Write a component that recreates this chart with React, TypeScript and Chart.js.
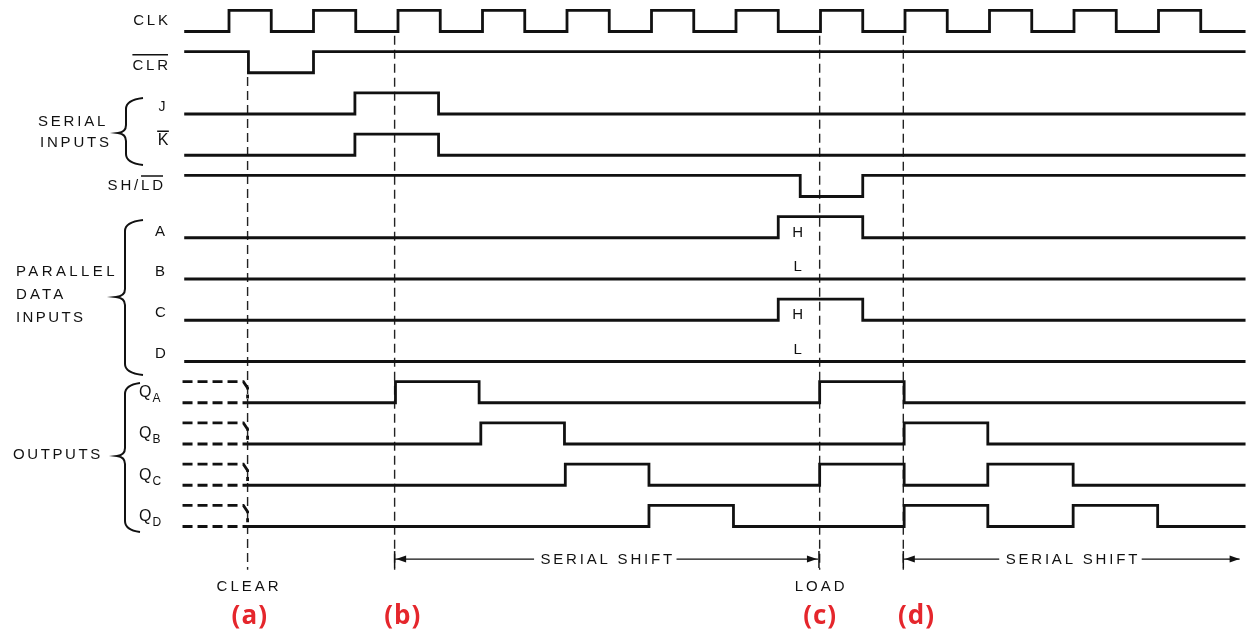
import { useEffect, useRef } from "react";
import { Chart, registerables } from "chart.js";

Chart.register(...registerables);

// ---------------- data ----------------
// time unit = one clock period, t = 0 at the first CLK rising edge
const T_START = -0.53;
const T_END = 12.03;

const rowNames = ["CLK", "CLR", "J", "K", "SH/LD", "A", "B", "C", "D", "QA", "QB", "QC", "QD"];
const startLevels = [0, 1, 0, 0, 1, 0, 0, 0, 0, 0, 0, 0, 0];

const clkEdges = [0, 0.5, 1, 1.5, 2, 2.5, 3, 3.5, 4, 4.5, 5, 5.5, 6, 6.5, 7, 7.5, 8, 8.5, 9, 9.5, 10, 10.5, 11, 11.5];
const clrEdges = [0.23, 1.0];
const jEdges = [1.49, 2.48];
const kEdges = [1.49, 2.48];
const shldEdges = [6.76, 7.5];
const aEdges = [6.5, 7.5];
const bEdges: number[] = [];
const cEdges = [6.5, 7.5];
const dEdges: number[] = [];
const qaEdges = [1.97, 2.96, 6.99, 7.99];
const qbEdges = [2.98, 3.97, 7.99, 8.98];
const qcEdges = [3.98, 4.97, 6.99, 7.99, 8.98, 9.99];
const qdEdges = [4.97, 5.97, 7.99, 8.98, 9.99, 10.99];
const edgeLists = [clkEdges, clrEdges, jEdges, kEdges, shldEdges, aEdges, bEdges, cEdges, dEdges, qaEdges, qbEdges, qcEdges, qdEdges];

const outputRows = [9, 10, 11, 12];
const clearTime = 0.22;

const markerTimes = [0.22, 1.96, 6.99, 7.98];
const markerStartRows = [1, 0, 0, 0];
const markerCaptions = ["CLEAR", "", "LOAD", ""];
const stepTags = ["(a)", "(b)", "(c)", "(d)"];
const stepTagTimes = [0.24, 2.05, 6.99, 8.13];

const shiftStarts = [1.96, 7.98];
const shiftEnds = [6.97, 11.96];
const shiftEndTicks = [true, false];
const shiftCaption = "SERIAL SHIFT";

const loadedTime = 6.73;
const loadedRows = [5, 6, 7, 8];
const loadedValues = ["H", "L", "H", "L"];

// ---------------- layout ----------------
const W = 1246;
const H = 634;
const X_ORIGIN_PX = 229;
const PERIOD_PX = 84.5;
const ROW0_PX = 31.5;
const ROW_PX = 41.25;
const AMP = 0.51;
const MARKER_END_ROW = 13.05;
const SHIFT_ROW = 12.79;

const X_MIN = -X_ORIGIN_PX / PERIOD_PX;
const X_MAX = X_MIN + W / PERIOD_PX;
const Y_MIN = -ROW0_PX / ROW_PX;
const Y_MAX = Y_MIN + H / ROW_PX;

const INK = "#111";
const RED = "#e5262c";
const FONT = '"Liberation Sans", Arial, sans-serif';
const LINE_W = 2.8;

function wave(row: number, start: number, startLevel: number, edges: number[]) {
  const pts: { x: number; y: number }[] = [];
  let lvl = startLevel;
  pts.push({ x: start, y: row - AMP * lvl });
  for (const e of edges) {
    pts.push({ x: e, y: row - AMP * lvl });
    lvl = 1 - lvl;
    pts.push({ x: e, y: row - AMP * lvl });
  }
  pts.push({ x: T_END, y: row - AMP * lvl });
  return pts;
}

function buildDatasets() {
  const ds: any[] = [];
  rowNames.forEach((_, r) => {
    const isOut = outputRows.includes(r);
    ds.push({
      data: wave(r, isOut ? clearTime : T_START, startLevels[r], edgeLists[r]),
      borderColor: INK,
      borderWidth: LINE_W,
      borderJoinStyle: "miter",
      pointRadius: 0,
      fill: false,
    });
    if (isOut) {
      ds.push({
        data: [
          { x: T_START - 0.02, y: r - AMP },
          { x: clearTime - 0.05, y: r - AMP },
          { x: clearTime, y: r - AMP * 0.7 },
          { x: clearTime, y: r - AMP * 0.2 },
        ],
        borderColor: INK,
        borderWidth: LINE_W,
        borderDash: [10, 5],
        pointRadius: 0,
        fill: false,
      });
      ds.push({
        data: [
          { x: T_START - 0.02, y: r },
          { x: clearTime, y: r },
        ],
        borderColor: INK,
        borderWidth: LINE_W,
        borderDash: [10, 5],
        pointRadius: 0,
        fill: false,
      });
    }
  });
  markerTimes.forEach((t, i) => {
    ds.push({
      data: [
        { x: t, y: markerStartRows[i] + 0.1 },
        { x: t, y: MARKER_END_ROW },
      ],
      borderColor: "#222",
      borderWidth: 1.4,
      borderDash: [9, 5],
      pointRadius: 0,
      fill: false,
    });
  });
  shiftStarts.forEach((t, i) => {
    ds.push({
      data: [
        { x: t, y: SHIFT_ROW },
        { x: shiftEnds[i], y: SHIFT_ROW },
      ],
      borderColor: INK,
      borderWidth: 1.3,
      pointRadius: 0,
      fill: false,
    });
  });
  return ds;
}

function drawText(
  ctx: CanvasRenderingContext2D,
  s: string,
  x: number,
  y: number,
  align: "left" | "right" | "center",
  size = 15,
  spacing = 2.8,
  weight = "normal",
  family = FONT,
  color = INK
) {
  ctx.font = `${weight} ${size}px ${family}`;
  (ctx as any).letterSpacing = spacing + "px";
  ctx.fillStyle = color;
  ctx.textBaseline = "middle";
  ctx.textAlign = "left";
  const w = ctx.measureText(s).width - spacing;
  const x0 = align === "left" ? x : align === "right" ? x - w : x - w / 2;
  ctx.fillText(s, x0, y);
  return { x0, w };
}

function overline(ctx: CanvasRenderingContext2D, s: string, from: number, x0: number, cy: number, size = 15, spacing = 2.8) {
  ctx.font = `normal ${size}px ${FONT}`;
  (ctx as any).letterSpacing = spacing + "px";
  const a = from === 0 ? 0 : ctx.measureText(s.slice(0, from)).width;
  const b = ctx.measureText(s).width - spacing;
  ctx.strokeStyle = INK;
  ctx.lineWidth = 1.5;
  ctx.beginPath();
  ctx.moveTo(x0 + a, cy - 10);
  ctx.lineTo(x0 + b, cy - 10);
  ctx.stroke();
}

function brace(ctx: CanvasRenderingContext2D, xEnd: number, xBar: number, xTip: number, yTop: number, yMid: number, yBot: number) {
  ctx.strokeStyle = INK;
  ctx.lineWidth = 2;
  ctx.beginPath();
  ctx.moveTo(xEnd, yTop);
  ctx.quadraticCurveTo(xBar, yTop + 2, xBar, yTop + 11);
  ctx.lineTo(xBar, yMid - 8);
  ctx.quadraticCurveTo(xBar, yMid - 1, xTip, yMid);
  ctx.quadraticCurveTo(xBar, yMid + 1, xBar, yMid + 8);
  ctx.lineTo(xBar, yBot - 11);
  ctx.quadraticCurveTo(xBar, yBot - 2, xEnd, yBot);
  ctx.stroke();
}

function arrowHead(ctx: CanvasRenderingContext2D, tipX: number, y: number, dir: number) {
  ctx.fillStyle = INK;
  ctx.beginPath();
  ctx.moveTo(tipX, y);
  ctx.lineTo(tipX - dir * 10, y - 3.5);
  ctx.lineTo(tipX - dir * 10, y + 3.5);
  ctx.closePath();
  ctx.fill();
}

const diagramPlugin = {
  id: "diagramText",
  beforeDraw(chart: any) {
    const ctx = chart.ctx as CanvasRenderingContext2D;
    ctx.save();
    ctx.fillStyle = "#fff";
    ctx.fillRect(0, 0, chart.width, chart.height);
    ctx.restore();
  },
  afterDatasetsDraw(chart: any) {
    const ctx = chart.ctx as CanvasRenderingContext2D;
    const px = (t: number) => chart.scales.x.getPixelForValue(t);
    const py = (r: number) => chart.scales.y.getPixelForValue(r);
    ctx.save();

    // signal names
    let m = drawText(ctx, "CLK", 168, py(0) - 11, "right");
    m = drawText(ctx, "CLR", 168, py(1) - 7, "right");
    overline(ctx, "CLR", 0, m.x0, py(1) - 7 - 1);
    drawText(ctx, "J", 162, py(2) - 7, "center", 14, 0);
    m = drawText(ctx, "K", 163, py(3) - 15, "center", 16, 0);
    ctx.strokeStyle = INK;
    ctx.lineWidth = 1.5;
    ctx.beginPath();
    ctx.moveTo(m.x0 - 0.5, py(3) - 24);
    ctx.lineTo(m.x0 + m.w + 0.5, py(3) - 24);
    ctx.stroke();
    m = drawText(ctx, "SH/LD", 163, py(4) - 10.5, "right");
    overline(ctx, "SH/LD", 3, m.x0, py(4) - 10.5);
    const dataOffsets = [-6, -7, -7, -8];
    ["A", "B", "C", "D"].forEach((n, i) => {
      drawText(ctx, n, 155, py(5 + i) + dataOffsets[i], "left", 15, 0);
    });
    ["A", "B", "C", "D"].forEach((n, i) => {
      const cy = py(9 + i) - 10;
      const q = drawText(ctx, "Q", 139, cy, "left", 16, 0);
      drawText(ctx, n, q.x0 + q.w + 1, cy + 6, "left", 12, 0);
    });

    // group labels
    drawText(ctx, "SERIAL", 38, 122, "left");
    drawText(ctx, "INPUTS", 40, 143, "left");
    drawText(ctx, "PARALLEL", 16, 272, "left", 15, 3.4);
    drawText(ctx, "DATA", 16, 295, "left", 15, 3.2);
    drawText(ctx, "INPUTS", 16, 318, "left", 15, 2.4);
    drawText(ctx, "OUTPUTS", 13, 455, "left", 15, 2.6);
    brace(ctx, 143, 126, 118, 98, 133, 165);
    brace(ctx, 143, 125, 116, 220, 297, 375);
    brace(ctx, 140, 125, 117, 383, 456, 532);

    // loaded H / L values
    loadedRows.forEach((r, i) => {
      const v = loadedValues[i];
      const cy = v === "H" ? py(r - AMP) + 16 : py(r) - 12;
      drawText(ctx, v, px(loadedTime), cy, "center", 15, 0);
    });

    // serial shift spans
    const ys = py(SHIFT_ROW);
    shiftStarts.forEach((t0, i) => {
      const x0 = px(t0);
      const x1 = px(shiftEnds[i]);
      ctx.strokeStyle = INK;
      ctx.lineWidth = 1.5;
      ctx.beginPath();
      ctx.moveTo(x0, ys - 8);
      ctx.lineTo(x0, ys + 9);
      ctx.stroke();
      arrowHead(ctx, x0 + 1.5, ys, -1);
      if (shiftEndTicks[i]) {
        ctx.beginPath();
        ctx.moveTo(x1 + 1, ys - 8);
        ctx.lineTo(x1 + 1, ys + 9);
        ctx.stroke();
        arrowHead(ctx, x1 - 1, ys, 1);
      } else {
        arrowHead(ctx, x1, ys, 1);
      }
      const cx = (x0 + x1) / 2;
      ctx.font = `normal 15px ${FONT}`;
      (ctx as any).letterSpacing = "2.8px";
      const w = ctx.measureText(shiftCaption).width;
      ctx.fillStyle = "#fff";
      ctx.fillRect(cx - w / 2 - 5, ys - 8, w + 8, 16);
      drawText(ctx, shiftCaption, cx, ys + 1, "center");
    });

    // captions under markers
    markerTimes.forEach((t, i) => {
      if (markerCaptions[i]) drawText(ctx, markerCaptions[i], px(t), 587, "center", 15, 3);
    });
    stepTags.forEach((s, i) => {
      drawText(ctx, s, px(stepTagTimes[i]), 617, "center", 26, 1, "bold", '"Open Sans", sans-serif', RED);
    });

    ctx.restore();
  },
};

export default function App() {
  const ref = useRef<HTMLCanvasElement | null>(null);
  useEffect(() => {
    document.body.style.margin = "0";
    const canvas = ref.current;
    if (!canvas) return;
    const chart = new Chart(canvas, {
      type: "line",
      data: { datasets: buildDatasets() },
      options: {
        animation: false,
        responsive: false,
        devicePixelRatio: 1,
        events: [],
        layout: { padding: 0, autoPadding: false },
        plugins: { legend: { display: false }, tooltip: { enabled: false } },
        scales: {
          x: { type: "linear", min: X_MIN, max: X_MAX, display: false },
          y: { type: "linear", min: Y_MIN, max: Y_MAX, reverse: true, display: false },
        },
      } as any,
      plugins: [diagramPlugin as any],
    });
    return () => chart.destroy();
  }, []);
  return (
    <div style={{ width: W, height: H, background: "#fff" }}>
      <canvas ref={ref} width={W} height={H} style={{ display: "block" }} />
    </div>
  );
}
